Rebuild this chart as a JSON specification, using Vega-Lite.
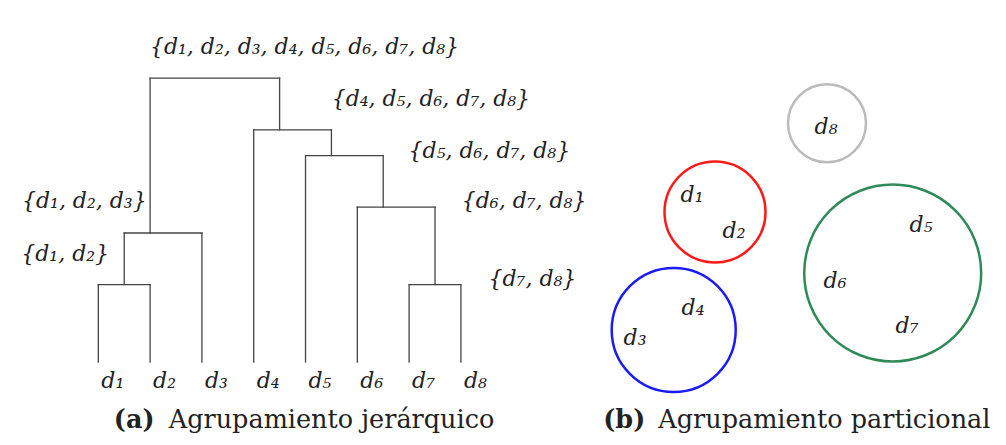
{
  "$schema": "https://vega.github.io/schema/vega-lite/v6.json",
  "padding": 0,
  "spacing": 0,
  "bounds": "flush",
  "background": "white",
  "config": {"view": {"stroke": null}, "text": {"font": "DejaVu Serif", "color": "#222222"}},
  "datasets": {
    "segments": [
      {"x": 1, "x2": 1, "y": 0, "y2": 3},
      {"x": 2, "x2": 2, "y": 0, "y2": 3},
      {"x": 3, "x2": 3, "y": 0, "y2": 5},
      {"x": 4, "x2": 4, "y": 0, "y2": 9},
      {"x": 5, "x2": 5, "y": 0, "y2": 8},
      {"x": 6, "x2": 6, "y": 0, "y2": 6},
      {"x": 7, "x2": 7, "y": 0, "y2": 3},
      {"x": 8, "x2": 8, "y": 0, "y2": 3},
      {"x": 1, "x2": 2, "y": 3, "y2": 3},
      {"x": 7, "x2": 8, "y": 3, "y2": 3},
      {"x": 1.5, "x2": 3, "y": 5, "y2": 5},
      {"x": 6, "x2": 7.5, "y": 6, "y2": 6},
      {"x": 5, "x2": 6.5, "y": 8, "y2": 8},
      {"x": 4, "x2": 5.5, "y": 9, "y2": 9},
      {"x": 2, "x2": 4.5, "y": 11, "y2": 11},
      {"x": 1.5, "x2": 1.5, "y": 3, "y2": 5},
      {"x": 7.5, "x2": 7.5, "y": 3, "y2": 6},
      {"x": 6.5, "x2": 6.5, "y": 6, "y2": 8},
      {"x": 5.5, "x2": 5.5, "y": 8, "y2": 9},
      {"x": 4.5, "x2": 4.5, "y": 9, "y2": 11},
      {"x": 2, "x2": 2, "y": 5, "y2": 11}
    ],
    "leaves": [
      {"leaf": 1, "base": 0, "name": "d₁"},
      {"leaf": 2, "base": 0, "name": "d₂"},
      {"leaf": 3, "base": 0, "name": "d₃"},
      {"leaf": 4, "base": 0, "name": "d₄"},
      {"leaf": 5, "base": 0, "name": "d₅"},
      {"leaf": 6, "base": 0, "name": "d₆"},
      {"leaf": 7, "base": 0, "name": "d₇"},
      {"leaf": 8, "base": 0, "name": "d₈"}
    ],
    "sets": [
      {"label": "{d₁, d₂, d₃, d₄, d₅, d₆, d₇, d₈}", "x": 4.98, "y": 11.94},
      {"label": "{d₄, d₅, d₆, d₇, d₈}", "x": 7.42, "y": 9.92},
      {"label": "{d₅, d₆, d₇, d₈}", "x": 8.55, "y": 7.91},
      {"label": "{d₆, d₇, d₈}", "x": 9.22, "y": 5.97},
      {"label": "{d₁, d₂, d₃}", "x": 0.73, "y": 5.97},
      {"label": "{d₁, d₂}", "x": 0.36, "y": 3.91},
      {"label": "{d₇, d₈}", "x": 9.38, "y": 2.95}
    ],
    "captionA": [
      {"part": "tag", "text": "(a)", "x": 1.3, "y": -2.57},
      {"part": "title", "text": "Agrupamiento jerárquico", "x": 2.36, "y": -2.57}
    ],
    "clusters": [
      {"cluster": "A", "x": 13.5, "y": 23.3, "r": 5.05},
      {"cluster": "B", "x": 9.37, "y": 11.5, "r": 6.2},
      {"cluster": "C", "x": 31.27, "y": 17.2, "r": 8.85},
      {"cluster": "D", "x": 24.7, "y": 32.17, "r": 3.9}
    ],
    "docs": [
      {"name": "d₁", "x": 11.2, "y": 24.33},
      {"name": "d₂", "x": 15.4, "y": 20.67},
      {"name": "d₃", "x": 5.5, "y": 10.0},
      {"name": "d₄", "x": 11.3, "y": 13.0},
      {"name": "d₅", "x": 34.1, "y": 21.33},
      {"name": "d₆", "x": 25.5, "y": 15.67},
      {"name": "d₇", "x": 32.7, "y": 11.17},
      {"name": "d₈", "x": 24.6, "y": 31.1}
    ],
    "captionB": [
      {"part": "tag", "text": "(b)", "x": 2.33, "y": 1.67},
      {"part": "title", "text": "Agrupamiento particional", "x": 7.83, "y": 1.67}
    ]
  },
  "hconcat": [
    {
      "width": 580,
      "height": 445,
      "layer": [
        {
          "data": {"name": "segments"},
          "mark": {"type": "rule", "color": "#444444", "strokeWidth": 1.3, "strokeCap": "square"},
          "encoding": {
            "x": {"field": "x", "type": "quantitative", "axis": null, "scale": {"domain": [-0.898, 10.299], "nice": false, "zero": false}},
            "x2": {"field": "x2"},
            "y": {"field": "y", "type": "quantitative", "axis": null, "scale": {"domain": [-3.217, 14.031], "nice": false, "zero": false}},
            "y2": {"field": "y2"}
          }
        },
        {
          "data": {"name": "leaves"},
          "mark": {"type": "text", "fontSize": 22, "fontStyle": "italic", "align": "left", "baseline": "alphabetic", "dx": 3, "dy": 26},
          "encoding": {
            "x": {"field": "leaf", "type": "quantitative", "axis": null, "scale": {"domain": [-0.898, 10.299], "nice": false, "zero": false}},
            "y": {"field": "base", "type": "quantitative", "axis": null, "scale": {"domain": [-3.217, 14.031], "nice": false, "zero": false}},
            "text": {"field": "name"}
          }
        },
        {
          "data": {"name": "sets"},
          "mark": {"type": "text", "fontSize": 22, "fontStyle": "italic", "align": "center", "baseline": "alphabetic"},
          "encoding": {
            "x": {"field": "x", "type": "quantitative", "axis": null, "scale": {"domain": [-0.898, 10.299], "nice": false, "zero": false}},
            "y": {"field": "y", "type": "quantitative", "axis": null, "scale": {"domain": [-3.217, 14.031], "nice": false, "zero": false}},
            "text": {"field": "label"}
          }
        },
        {
          "data": {"name": "captionA"},
          "transform": [{"filter": "datum.part === 'tag'"}],
          "mark": {"type": "text", "fontSize": 25.5, "fontWeight": "bold", "align": "left", "baseline": "alphabetic"},
          "encoding": {
            "x": {"field": "x", "type": "quantitative", "axis": null, "scale": {"domain": [-0.898, 10.299], "nice": false, "zero": false}},
            "y": {"field": "y", "type": "quantitative", "axis": null, "scale": {"domain": [-3.217, 14.031], "nice": false, "zero": false}},
            "text": {"field": "text"}
          }
        },
        {
          "data": {"name": "captionA"},
          "transform": [{"filter": "datum.part === 'title'"}],
          "mark": {"type": "text", "fontSize": 25.5, "align": "left", "baseline": "alphabetic"},
          "encoding": {
            "x": {"field": "x", "type": "quantitative", "axis": null, "scale": {"domain": [-0.898, 10.299], "nice": false, "zero": false}},
            "y": {"field": "y", "type": "quantitative", "axis": null, "scale": {"domain": [-3.217, 14.031], "nice": false, "zero": false}},
            "text": {"field": "text"}
          }
        }
      ]
    },
    {
      "width": 426,
      "height": 445,
      "layer": [
        {
          "data": {"name": "clusters"},
          "mark": {"type": "point", "shape": "circle", "filled": false, "strokeWidth": 2.5, "opacity": 1},
          "encoding": {
            "x": {"field": "x", "type": "quantitative", "axis": null, "scale": {"domain": [0, 42.6], "nice": false, "zero": false}},
            "y": {"field": "y", "type": "quantitative", "axis": null, "scale": {"domain": [0, 44.5], "nice": false, "zero": false}},
            "size": {"field": "r", "type": "quantitative", "legend": null, "scale": {"type": "pow", "exponent": 2, "domain": [0, 10], "range": [0, 40000]}},
            "stroke": {"field": "cluster", "type": "nominal", "legend": null, "scale": {"domain": ["A", "B", "C", "D"], "range": ["#ff1a1a", "#1a1aff", "#2e8b57", "#bbbbbb"]}}
          }
        },
        {
          "data": {"name": "docs"},
          "mark": {"type": "text", "fontSize": 22, "fontStyle": "italic", "align": "center", "baseline": "alphabetic"},
          "encoding": {
            "x": {"field": "x", "type": "quantitative", "axis": null, "scale": {"domain": [0, 42.6], "nice": false, "zero": false}},
            "y": {"field": "y", "type": "quantitative", "axis": null, "scale": {"domain": [0, 44.5], "nice": false, "zero": false}},
            "text": {"field": "name"}
          }
        },
        {
          "data": {"name": "captionB"},
          "transform": [{"filter": "datum.part === 'tag'"}],
          "mark": {"type": "text", "fontSize": 25.5, "fontWeight": "bold", "align": "left", "baseline": "alphabetic"},
          "encoding": {
            "x": {"field": "x", "type": "quantitative", "axis": null, "scale": {"domain": [0, 42.6], "nice": false, "zero": false}},
            "y": {"field": "y", "type": "quantitative", "axis": null, "scale": {"domain": [0, 44.5], "nice": false, "zero": false}},
            "text": {"field": "text"}
          }
        },
        {
          "data": {"name": "captionB"},
          "transform": [{"filter": "datum.part === 'title'"}],
          "mark": {"type": "text", "fontSize": 25.5, "align": "left", "baseline": "alphabetic"},
          "encoding": {
            "x": {"field": "x", "type": "quantitative", "axis": null, "scale": {"domain": [0, 42.6], "nice": false, "zero": false}},
            "y": {"field": "y", "type": "quantitative", "axis": null, "scale": {"domain": [0, 44.5], "nice": false, "zero": false}},
            "text": {"field": "text"}
          }
        }
      ]
    }
  ]
}
